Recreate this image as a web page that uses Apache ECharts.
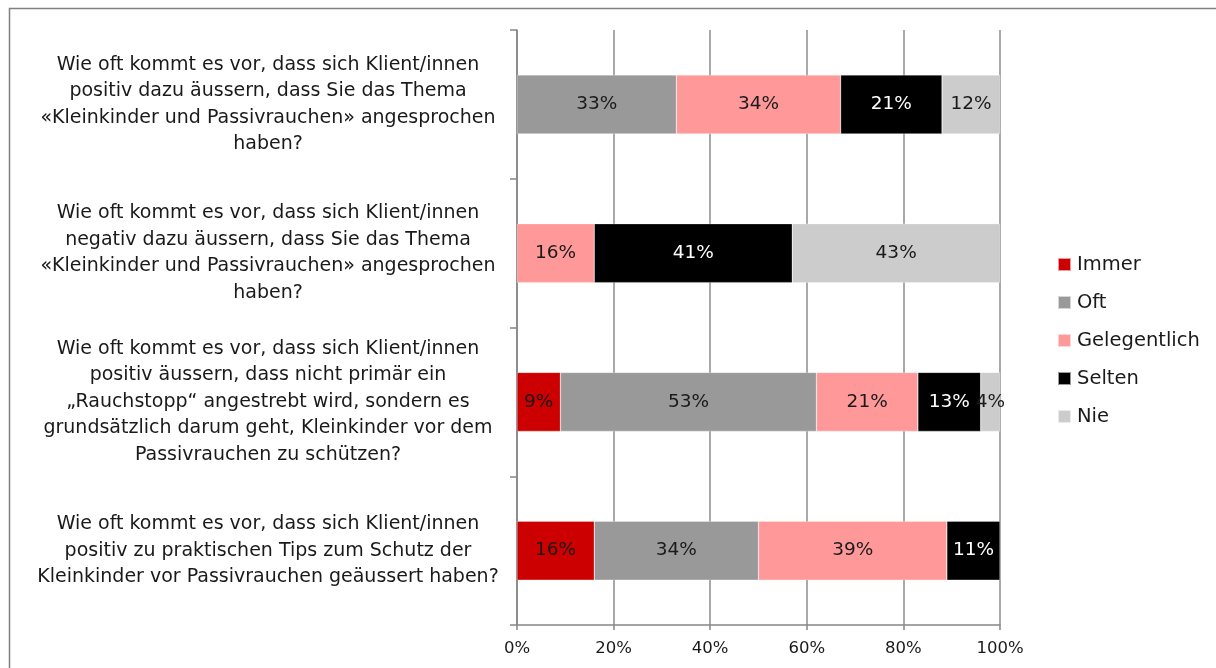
<!DOCTYPE html>
<html><head><meta charset="utf-8">
<script src="https://cdn.jsdelivr.net/npm/echarts@6/dist/echarts.min.js"></script>
<style>html,body{margin:0;padding:0;background:#fff}#c{width:1216px;height:668px}</style>
</head><body><div id="c"></div>
<script>
const categories = [
  "Wie oft kommt es vor, dass sich Klient/innen\npositiv dazu äussern, dass Sie das Thema\n«Kleinkinder und Passivrauchen» angesprochen\nhaben?",
  "Wie oft kommt es vor, dass sich Klient/innen\nnegativ dazu äussern, dass Sie das Thema\n«Kleinkinder und Passivrauchen» angesprochen\nhaben?",
  "Wie oft kommt es vor, dass sich Klient/innen\npositiv äussern, dass nicht primär ein\n„Rauchstopp“ angestrebt wird, sondern es\ngrundsätzlich darum geht, Kleinkinder vor dem\nPassivrauchen zu schützen?",
  "Wie oft kommt es vor, dass sich Klient/innen\npositiv zu praktischen Tips zum Schutz der\nKleinkinder vor Passivrauchen geäussert haben?"
];
const seriesNames = ["Immer", "Oft", "Gelegentlich", "Selten", "Nie"];
const immer = [null, null, 9, 16];
const oft = [33, null, 53, 34];
const gelegentlich = [34, 16, 21, 39];
const selten = [21, 41, 13, 11];
const nie = [12, 43, 4, null];
const xTicks = [0, 20, 40, 60, 80, 100];

const colors = ["#cc0000", "#999999", "#ff9999", "#000000", "#cccccc"];
const labelColors = ["#1a1a1a", "#1a1a1a", "#1a1a1a", "#ffffff", "#1a1a1a"];
const values = [immer, oft, gelegentlich, selten, nie];
const FONT = "DejaVu Sans";

const chart = echarts.init(document.getElementById('c'), null, {renderer: 'canvas'});
chart.setOption({
  animation: false,
  backgroundColor: '#fff',
  textStyle: {fontFamily: FONT},
  graphic: [{
    type: 'rect', silent: true,
    shape: {x: 9.5, y: 8.5, width: 1230, height: 700},
    style: {fill: 'none', stroke: '#808080', lineWidth: 1.5}
  }],
  legend: {
    orient: 'vertical', left: 1052, top: 249,
    itemWidth: 13, itemHeight: 13, itemGap: 17,
    data: seriesNames,
    textStyle: {fontFamily: FONT, fontSize: 19.5, lineHeight: 21, color: '#1a1a1a', padding: [0, 0, 0, 1]},
    icon: 'rect'
  },
  grid: {left: 517, right: 216, top: 30, bottom: 43},
  xAxis: {
    type: 'value', min: 0, max: 100, interval: 20,
    axisLine: {show: true, lineStyle: {color: '#868686', width: 1.5}},
    axisTick: {show: true, length: 5, lineStyle: {color: '#868686', width: 1.5}},
    splitLine: {show: true, lineStyle: {color: '#8c8c8c', width: 1.5}},
    axisLabel: {formatter: v => xTicks.includes(v) ? v + '%' : '', fontFamily: FONT, fontSize: 16.5, color: '#1a1a1a', margin: 15}
  },
  yAxis: {
    type: 'category', inverse: true, data: categories,
    axisLine: {show: true, lineStyle: {color: '#868686', width: 1.5}},
    axisTick: {show: true, length: 7, lineStyle: {color: '#868686', width: 1.5}},
    axisLabel: {fontFamily: FONT, fontSize: 19, color: '#1a1a1a', align: 'center', margin: 249, lineHeight: 26.5}
  },
  series: seriesNames.map((n, i) => ({
    name: n, type: 'bar', stack: 'total', barWidth: 59,
    data: values[i],
    itemStyle: {color: colors[i], borderColor: 'rgba(255,255,255,0.6)', borderWidth: 0.5},
    label: {show: true, position: 'inside', formatter: p => p.value == null ? '' : p.value + '%',
            fontFamily: FONT, fontSize: 18.5, color: labelColors[i]}
  }))
});
</script></body></html>
